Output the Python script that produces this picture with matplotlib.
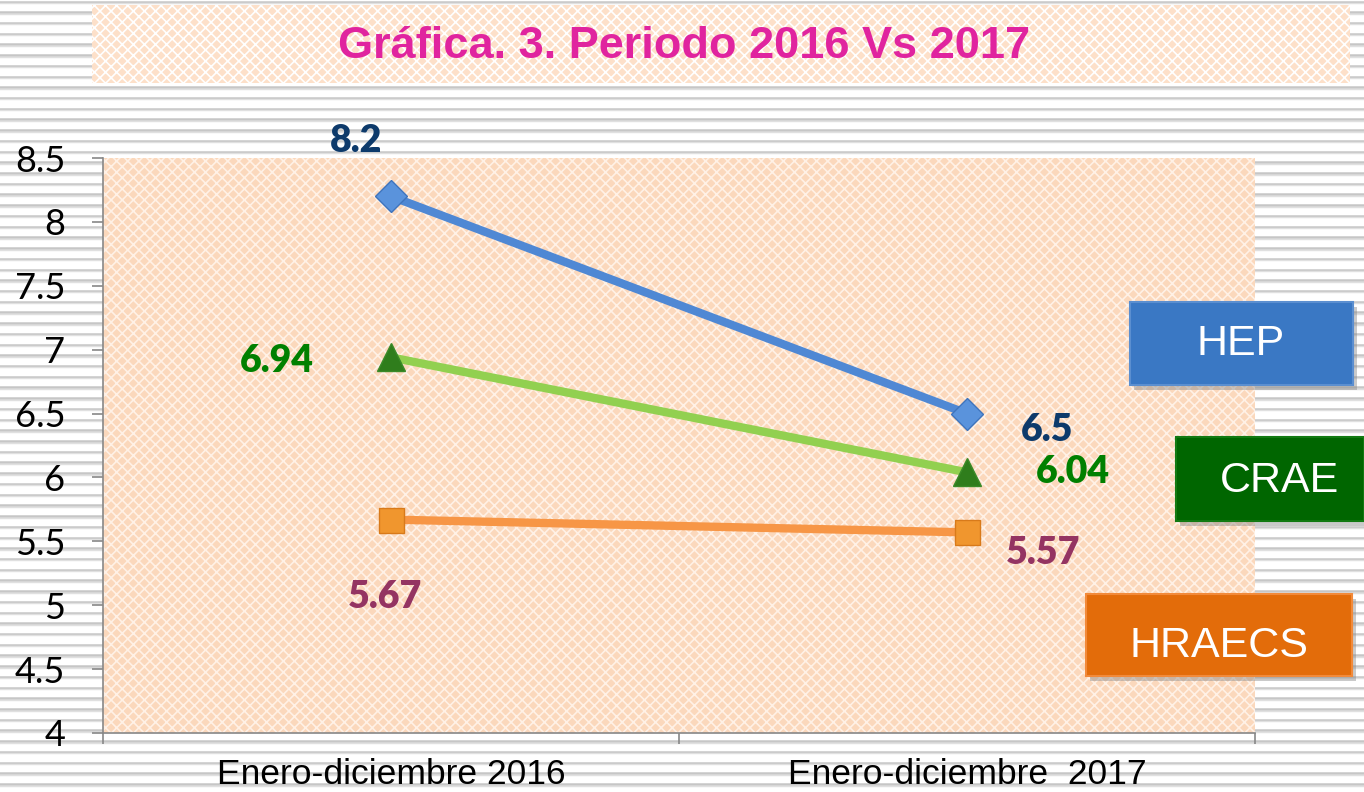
import matplotlib
matplotlib.use("Agg")
import matplotlib.pyplot as plt
from matplotlib.patches import Rectangle
import numpy as np

# ---- data ----
categories = ["Enero-diciembre 2016", "Enero-diciembre  2017"]
series_names = ["HEP", "CRAE", "HRAECS"]
hep = [8.2, 6.5]
crae = [6.94, 6.04]
hraecs = [5.67, 5.57]
hep_labels = ["8.2", "6.5"]
crae_labels = ["6.94", "6.04"]
hraecs_labels = ["5.67", "5.57"]
yticks = [4, 4.5, 5, 5.5, 6, 6.5, 7, 7.5, 8, 8.5]
ytick_labels = ["4", "4.5", "5", "5.5", "6", "6.5", "7", "7.5", "8", "8.5"]
title = "Gráfica. 3. Periodo 2016 Vs 2017"

W, H = 1364, 792
plt.rcParams["hatch.linewidth"] = 1.2
fig = plt.figure(figsize=(W / 100, H / 100), dpi=100)
fig.patch.set_facecolor("white")

def fx(px):
    return px / W

def fy(py):
    return 1 - py / H

# striped background
bg = fig.add_axes([0, 0, 1, 1], zorder=-10)
bg.set_xlim(0, W)
bg.set_ylim(H, 0)
bg.axis("off")
for yy in np.arange(1.5, H, 10.72):
    bg.axhline(yy, color="#c6c6c6", lw=1.8)
    bg.axhline(yy + 1.5, color="#e0e0e0", lw=1.0)

# title box
bg.add_patch(Rectangle((92, 5), 1258, 78, facecolor="#fde0c9", edgecolor="white",
                       hatch="xxx", lw=0, zorder=2))
bg.text(684, 46, title, ha="center", va="center", color="#e0249f",
        fontsize=32.5, fontweight="bold", family=["Liberation Sans", "DejaVu Sans"], zorder=3)

# main axes
ax = fig.add_axes([fx(103), fy(733), fx(1255) - fx(103), fy(158) - fy(733)])
ax.set_facecolor("#fbd8bc")
ax.patch.set_hatch("xxx")
ax.patch.set_edgecolor("#fff1e6")
ax.set_xlim(-0.5, 1.5)
ax.set_ylim(4, 8.5)

x = np.arange(len(categories))
ax.plot(x, hep, color="#4f88d4", lw=6, marker="D", markersize=16,
        markerfacecolor="#5a93dc", markeredgecolor="#3f74bc", markeredgewidth=1, zorder=5)
ax.plot(x, crae, color="#92d050", lw=6, marker="^", markersize=20,
        markerfacecolor="#2f7d1c", markeredgecolor="#3a8a28", markeredgewidth=1, zorder=5)
ax.plot(x, hraecs, color="#f79646", lw=6, marker="s", markersize=18,
        markerfacecolor="#f0962e", markeredgecolor="#d87a1a", markeredgewidth=1, zorder=5)

lab_font = dict(fontsize=27, fontweight="heavy", family=["Lato", "DejaVu Sans"])
hep_off = [(-25, 40), (58, -12)]
crae_off = [(-82, -3), (76, 0)]
hraecs_off = [(-4, -56), (55, -15)]
for vals, labs, offs, col in [(hep, hep_labels, hep_off, "#0d3a6b"),
                              (crae, crae_labels, crae_off, "#008000"),
                              (hraecs, hraecs_labels, hraecs_off, "#943462")]:
    for xi, v, t, o in zip(x, vals, labs, offs):
        ax.annotate(t, (xi, v), xytext=o, textcoords="offset points",
                    ha="center", va="center", color=col, zorder=6, **lab_font)

ax.set_yticks(yticks)
ax.set_yticklabels(ytick_labels, fontsize=26, family=["Lato", "DejaVu Sans"])
ax.set_xticks(x)
ax.set_xticklabels(categories, fontsize=25.5, family=["Liberation Sans Narrow", "Liberation Sans"])
ax.set_xticks([-0.5, 0.5, 1.5], minor=True)
ax.tick_params(axis="x", which="major", length=0, pad=18)
ax.tick_params(axis="x", which="minor", length=8, color="#888888", width=1.2)
ax.tick_params(axis="y", length=8, color="#888888", width=1.2, pad=19)
for s in ["top", "right"]:
    ax.spines[s].set_visible(False)
for s in ["left", "bottom"]:
    ax.spines[s].set_color("#888888")
    ax.spines[s].set_linewidth(1.2)

# overlay for legend boxes
ov = fig.add_axes([0, 0, 1, 1], zorder=20)
ov.set_xlim(0, W)
ov.set_ylim(H, 0)
ov.axis("off")
ov.patch.set_alpha(0)
boxes = [("HEP", 1130, 302, 223, 83, "#3a78c4", "#5b8fd0", 1241, 344),
         ("CRAE", 1176, 437, 188, 84, "#006600", "#127a12", 1280, 481),
         ("HRAECS", 1086, 594, 266, 82, "#e36c0a", "#f28a3a", 1219, 646)]
for name, bx, by, bw, bh, col, ec, tx, ty in boxes:
    ov.add_patch(Rectangle((bx + 4, by + 5), bw, bh, facecolor="#8a8a8a", alpha=0.45,
                           lw=0, zorder=8))
    ov.add_patch(Rectangle((bx, by), bw, bh, facecolor=col, edgecolor=ec, lw=1.5, zorder=9))
    ov.text(tx, ty, name, ha="center", va="center",
            color="white", fontsize=31, family=["Liberation Sans", "DejaVu Sans"], zorder=10)

fig.savefig("out.png", dpi=100)
